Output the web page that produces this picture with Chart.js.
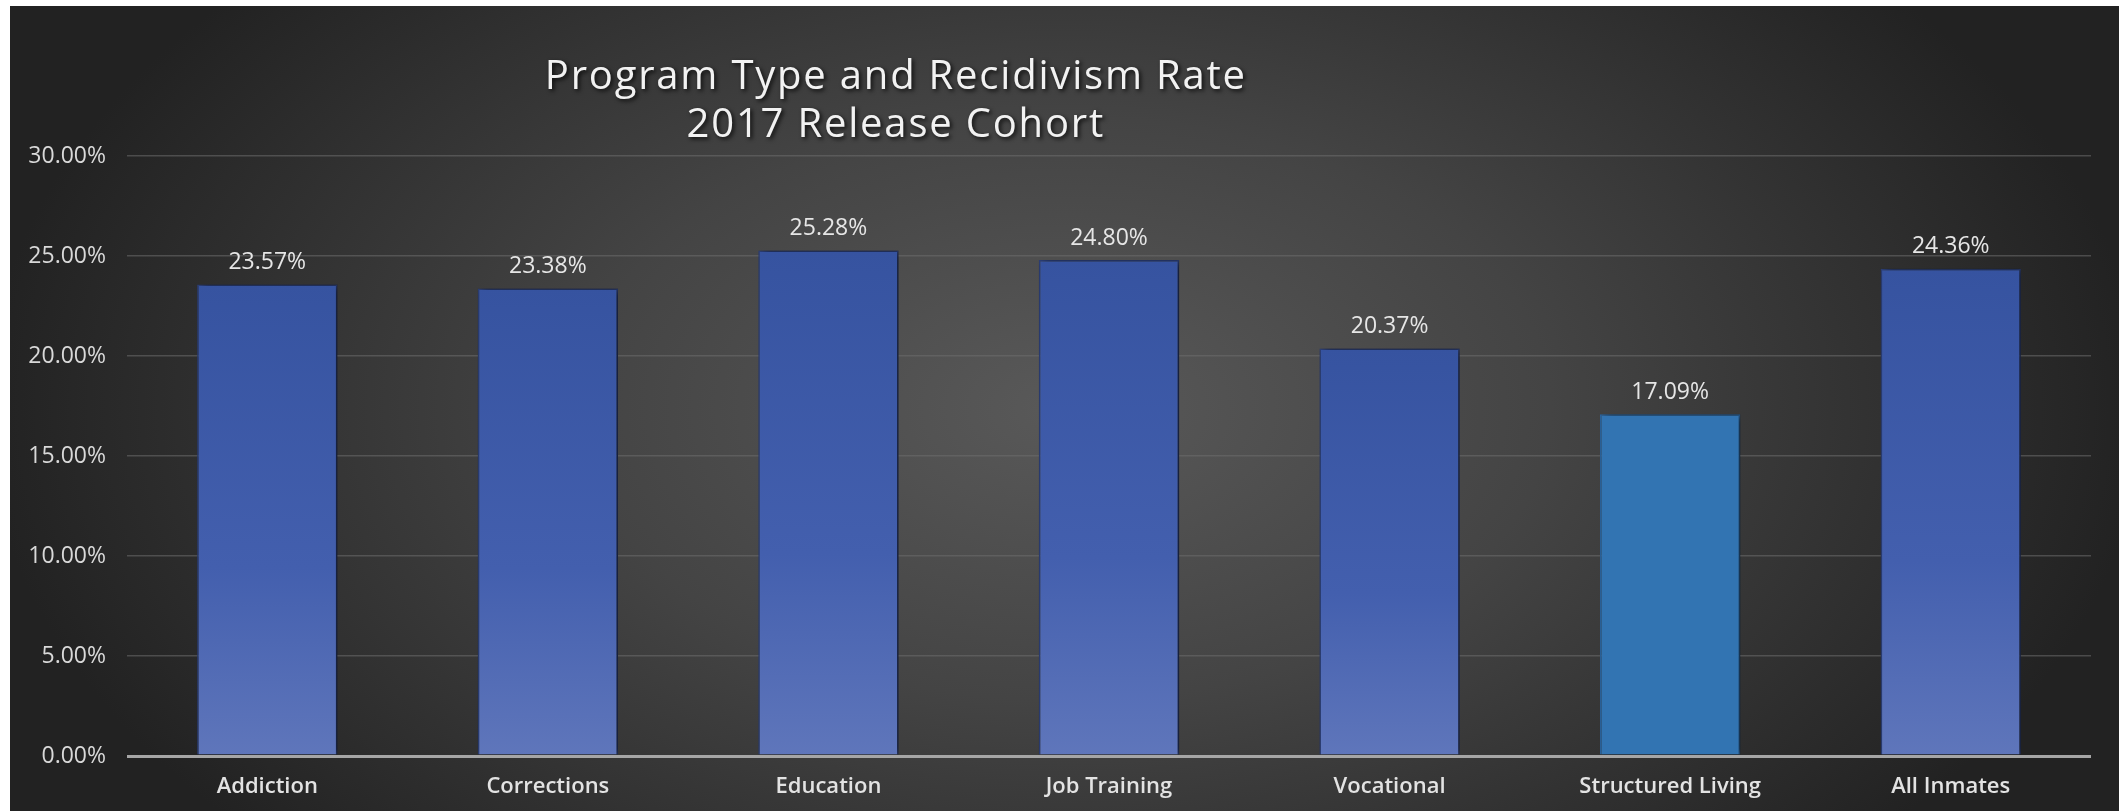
<!DOCTYPE html>
<html>
<head>
<meta charset="utf-8">
<script src="https://cdn.jsdelivr.net/npm/chart.js@4.4.0/dist/chart.umd.min.js"></script>
<style>
  html, body { margin: 0; padding: 0; background: #fff; }
  #wrap { position: absolute; left: 10px; top: 6px; width: 2109px; height: 805px; }
</style>
</head>
<body>
<div id="wrap"><canvas id="recidChart"></canvas></div>
<script>
// chart values
const programs = ['Addiction', 'Corrections', 'Education', 'Job Training', 'Vocational', 'Structured Living', 'All Inmates'];
const rates = [23.57, 23.38, 25.28, 24.80, 20.37, 17.09, 24.36];
const titleLines = ['Program Type and Recidivism Rate', '2017 Release Cohort'];
const yTicks = [0, 5, 10, 15, 20, 25, 30];

const FONT = '"Open Sans", "Liberation Sans", sans-serif';

// dark radial backdrop
const backdrop = {
  id: 'backdrop',
  beforeDraw(chart) {
    const { ctx, width, height } = chart;
    ctx.save();
    const cx = width * 0.5, cy = height * 0.5;
    ctx.translate(cx, cy);
    ctx.scale(1, 0.6);
    const g = ctx.createRadialGradient(0, 0, 0, 0, 0, 1080);
    g.addColorStop(0, '#595959');
    g.addColorStop(0.45, '#444444');
    g.addColorStop(1, '#222222');
    ctx.fillStyle = g;
    ctx.fillRect(-cx, -cy / 0.6, width, height / 0.6);
    ctx.restore();
  }
};

// two-line title, sits left of centre like the original
const titleText = {
  id: 'titleText',
  afterDraw(chart) {
    const { ctx, width } = chart;
    ctx.save();
    ctx.font = '500 40px ' + FONT;
    ctx.letterSpacing = '1.8px';
    ctx.textAlign = 'center';
    ctx.textBaseline = 'middle';
    ctx.fillStyle = '#f2f2f2';
    ctx.shadowColor = 'rgba(0,0,0,0.8)';
    ctx.shadowBlur = 4;
    ctx.shadowOffsetX = 2;
    ctx.shadowOffsetY = 2;
    const x = width * 0.42;
    ctx.fillText(titleLines[0], x, 72);
    ctx.fillText(titleLines[1], x, 120);
    ctx.restore();
  }
};

// soft shadow behind the bars
const barShadow = {
  id: 'barShadow',
  beforeDatasetsDraw(chart) {
    const ctx = chart.ctx;
    ctx.save();
    ctx.shadowColor = 'rgba(0,0,0,0.6)';
    ctx.shadowBlur = 8;
    ctx.shadowOffsetX = 4;
    ctx.shadowOffsetY = 0;
  },
  afterDatasetsDraw(chart) {
    chart.ctx.restore();
  }
};

// value labels above bars
const valueLabels = {
  id: 'valueLabels',
  afterDatasetsDraw(chart) {
    const { ctx } = chart;
    const meta = chart.getDatasetMeta(0);
    ctx.save();
    ctx.font = '500 23px ' + FONT;
    ctx.fillStyle = '#e6e6e6';
    ctx.textAlign = 'center';
    ctx.textBaseline = 'middle';
    meta.data.forEach((bar, i) => {
      ctx.fillText(rates[i].toFixed(2) + '%', bar.x, bar.y - 22);
    });
    ctx.restore();
  }
};

function barFill(context) {
  const chart = context.chart;
  const i = context.dataIndex;
  if (programs[i] === 'Structured Living') return '#3274b2';
  const ys = chart.scales.y;
  if (!chart.chartArea || !ys) return '#3f5aa8';
  const top = ys.getPixelForValue(rates[i]);
  const base = ys.getPixelForValue(0);
  const g = chart.ctx.createLinearGradient(0, top, 0, base);
  g.addColorStop(0, '#3653a0');
  g.addColorStop(0.6, '#435fae');
  g.addColorStop(1, '#5f76bb');
  return g;
}

new Chart(document.getElementById('recidChart'), {
  type: 'bar',
  data: {
    labels: programs,
    datasets: [{
      data: rates,
      backgroundColor: barFill,
      borderColor: ctx => programs[ctx.dataIndex] === 'Structured Living' ? '#2b65a0' : '#2c3f78',
      borderWidth: 1.5,
      barPercentage: 0.5,
      categoryPercentage: 1.0
    }]
  },
  options: {
    responsive: true,
    maintainAspectRatio: false,
    animation: false,
    layout: { padding: { top: 150, right: 28, left: 0, bottom: 0 } },
    plugins: {
      legend: { display: false },
      tooltip: { enabled: false },
      title: { display: false }
    },
    scales: {
      y: {
        min: 0,
        max: 30,
        afterBuildTicks: axis => { axis.ticks = yTicks.map(v => ({ value: v })); },
        afterFit: axis => { axis.width = 117; },
        ticks: {
          color: '#d9d9d9',
          font: { family: FONT, size: 23 },
          padding: 21,
          callback: v => v.toFixed(2) + '%'
        },
        grid: {
          color: ctx => ctx.tick.value === 0 ? '#a6a6a6' : 'rgba(110,110,110,0.55)',
          lineWidth: ctx => ctx.tick.value === 0 ? 3 : 1.5,
          drawTicks: false
        },
        border: { display: false }
      },
      x: {
        afterFit: axis => { axis.height = 55; },
        ticks: {
          color: '#e3e3e3',
          font: { family: FONT, size: 22, weight: '600' },
          padding: 10
        },
        grid: { display: false },
        border: { display: false }
      }
    }
  },
  plugins: [backdrop, barShadow, valueLabels, titleText]
});
</script>
</body>
</html>
